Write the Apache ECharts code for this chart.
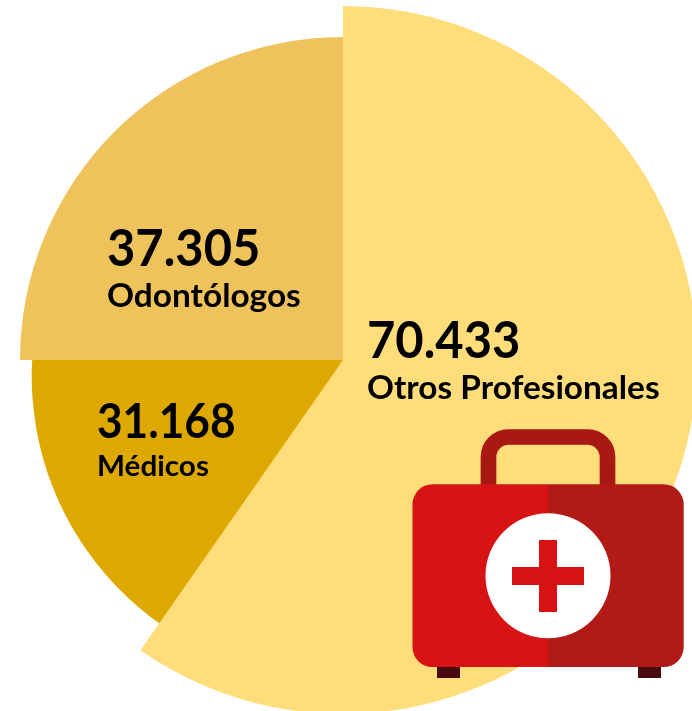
<!DOCTYPE html>
<html>
<head>
<meta charset="utf-8">
<style>html,body{margin:0;padding:0;background:#fff}#c{width:692px;height:711px}</style>
<script src="https://cdn.jsdelivr.net/npm/echarts@6/dist/echarts.min.js"></script>
</head>
<body>
<div id="c"></div>
<script>
const categories = ['Otros Profesionales', 'Médicos', 'Odontólogos'];
const valueLabels = ['70.433', '31.168', '37.305'];
// The source's slices are not drawn in proportion to its numbers: sweeps as drawn (degrees)
const drawnSweeps = [214.9, 175, 90];
const sliceStartAngles = [90, -125, 180];
const sliceColors = ['#FFDD7A', '#DDA900', '#EFC35C'];
const sliceRadii = [354, 303, 323];
const sliceCenters = [[343, 360], [334.7, 376.2], [343, 360]];
const sliceZ = [3, 1, 2];

const chart = echarts.init(document.getElementById('c'), null, {renderer: 'canvas'});
const font = 'Lato, sans-serif';
const labelPos = [
  {x: 367, vy: 341, ny: 389, vs: 52, ns: 32, nsx: 1.043},
  {x: 97, vy: 423, ny: 467, vs: 47, ns: 28, nsx: 1.06},
  {x: 107, vy: 249, ny: 297, vs: 52, ns: 32, nsx: 1.045}
];
const texts = [];
categories.forEach((c, i) => {
  const p = labelPos[i];
  texts.push({type: 'text', z: 10, x: p.x, y: p.vy, scaleX: 0.94, style: {text: valueLabels[i], fill: '#000', font: `bold ${p.vs}px ${font}`, textVerticalAlign: 'middle'}});
  texts.push({type: 'text', z: 10, x: p.x, y: p.ny, scaleX: p.nsx, style: {text: c, fill: '#000', font: `bold ${p.ns}px ${font}`, textVerticalAlign: 'middle'}});
});
const kit = [
  {type: 'rect', z: 11, shape: {x: 488.5, y: 437, width: 119, height: 100, r: 20}, style: {fill: 'none', stroke: '#A81913', lineWidth: 15.7}},
  {type: 'rect', z: 11, shape: {x: 437, y: 660, width: 23, height: 18}, style: {fill: '#470B0F'}},
  {type: 'rect', z: 11, shape: {x: 638, y: 660, width: 23, height: 18}, style: {fill: '#470B0F'}},
  {type: 'rect', z: 12, shape: {x: 412.5, y: 484.3, width: 135.5, height: 182.7, r: [20, 0, 0, 20]}, style: {fill: '#D71313'}},
  {type: 'rect', z: 12, shape: {x: 548, y: 484.3, width: 135.7, height: 182.7, r: [0, 20, 20, 0]}, style: {fill: '#B21A15'}},
  {type: 'circle', z: 13, shape: {cx: 548, cy: 575.7, r: 62.5}, style: {fill: '#fff'}},
  {type: 'rect', z: 14, shape: {x: 539, y: 540, width: 18, height: 72}, style: {fill: '#D71313'}},
  {type: 'rect', z: 14, shape: {x: 512, y: 567, width: 72, height: 18}, style: {fill: '#D71313'}}
];
chart.setOption({
  animation: false,
  backgroundColor: '#fff',
  series: categories.map((c, i) => ({
    type: 'pie',
    silent: true,
    z: sliceZ[i],
    center: sliceCenters[i],
    radius: [0, sliceRadii[i]],
    startAngle: sliceStartAngles[i],
    clockwise: true,
    label: {show: false},
    labelLine: {show: false},
    emphasis: {disabled: true},
    data: [
      {name: c, value: drawnSweeps[i], itemStyle: {color: sliceColors[i]}},
      {name: '', value: 360 - drawnSweeps[i], itemStyle: {color: 'transparent'}}
    ]
  })),
  graphic: {elements: texts.concat(kit)}
});
</script>
</body>
</html>
